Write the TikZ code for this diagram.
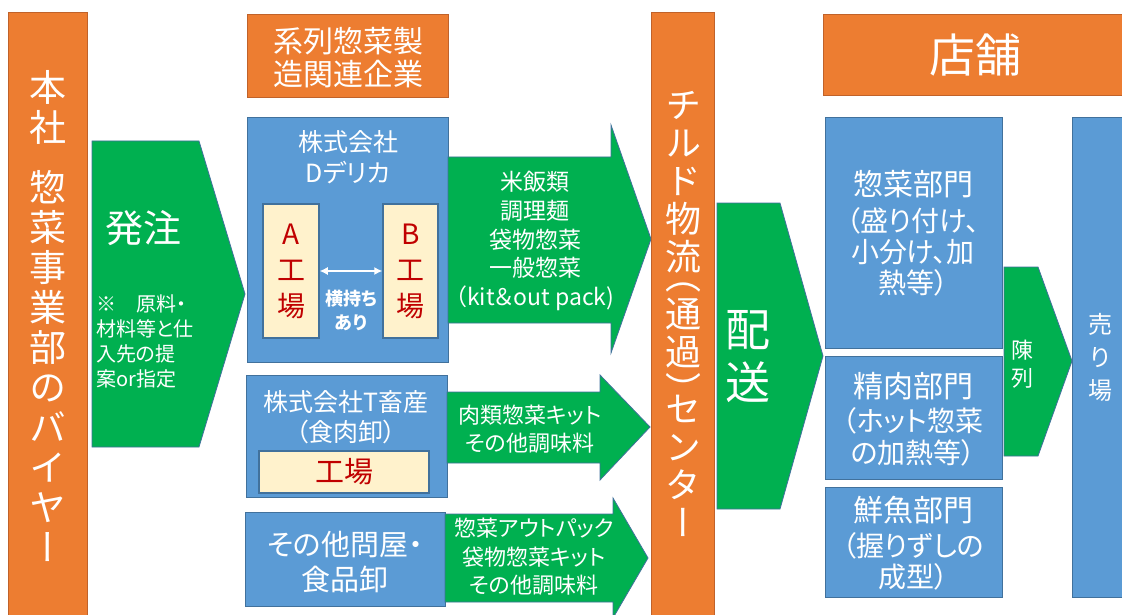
\documentclass[tikz,border=0pt]{standalone}
\usepackage{fontspec}
\usetikzlibrary{arrows.meta}
\newfontfamily\jp{Noto Sans CJK JP}[RawFeature=+palt]
\newfontfamily\vjp{Noto Sans CJK JP}[RawFeature=+vert]
\definecolor{orng}{HTML}{ED7D31}
\definecolor{obord}{HTML}{C0622A}
\definecolor{blu}{HTML}{5B9BD5}
\definecolor{bbord}{HTML}{41719C}
\definecolor{grn}{HTML}{00B050}
\definecolor{ylw}{HTML}{FFF2CC}
\definecolor{dred}{HTML}{C00000}
\begin{document}
\begin{tikzpicture}[x=1pt,y=-1pt,
  obox/.style={fill=orng, draw=obord, line width=1.2pt, inner sep=0, anchor=north west},
  bbox/.style={fill=blu, draw=bbord, line width=1.2pt, inner sep=0, anchor=north west},
  ybox/.style={fill=ylw, draw=bbord, line width=1.5pt, inner sep=0, text=dred, align=center},
  garrow/.style={fill=grn, draw=bbord, line width=0.8pt},
  wtext/.style={text=white, align=center, inner sep=0},
  dbl/.style={white, line width=1.2pt, {Latex[length=8pt,width=8pt]}-{Latex[length=8pt,width=8pt]}}
]
\useasboundingbox (0,0) rectangle (1122,615);
\clip (0,0) rectangle (1122,615);
\fill[white] (0,0) rectangle (1122,615);

% ---------- head office ----------
\node[obox, minimum width=79, minimum height=620] (honshabox) at (8,12) {};
\node[wtext, font=\vjp\fontsize{37}{40}\selectfont] (honsha) at (47.5,316)
  {本\\社\\[20pt]惣\\菜\\事\\業\\部\\の\\バ\\イ\\ヤ\\ー};

% ---------- order arrow ----------
\path[garrow] (92,141) -- (199,141) -- (245,294) -- (199,447) -- (92,447) -- cycle;
\node[wtext, font=\jp\fontsize{38}{40}\selectfont] (hatchu) at (143,228) {発注};
\node[wtext, align=left, anchor=west, font=\jp\fontsize{20}{25}\selectfont] (hatchunote) at (96,341)
  {※　原料・\\材料等と仕\\入先の提\\案or指定};

% ---------- suppliers ----------
\node[obox, minimum width=201, minimum height=83] (keiretsu) at (247,14) {};
\node[wtext, font=\jp\fontsize{30}{33}\selectfont] (keiretsutext) at (348,58) {系列惣菜製\\造関連企業};

\node[bbox, minimum width=201, minimum height=245] (delica) at (247,117) {};
\node[wtext, font=\jp\fontsize{25}{31}\selectfont] (delicatext) at (348,157) {株式会社\\Dデリカ};
\node[ybox, minimum width=56, minimum height=134, font=\jp\fontsize{28}{36}\selectfont] (afac) at (291,271) {A\\工\\場};
\node[ybox, minimum width=55, minimum height=134, font=\jp\fontsize{28}{36}\selectfont] (bfac) at (410.5,271) {B\\工\\場};
\draw[dbl] (afac.east) -- (bfac.west);
\node[wtext, font=\jp\bfseries\fontsize{18}{24}\selectfont] (yokomochi) at (351,310) {横持ち\\あり};

\node[bbox, minimum width=201, minimum height=122] (tchikusan) at (246,375) {};
\node[wtext, font=\jp\fontsize{25}{30}\selectfont] (tchikusantext) at (346,417) {株式会社T畜産\\（食肉卸）};
\node[ybox, minimum width=170, minimum height=42, font=\jp\fontsize{29}{32}\selectfont] (tfac) at (344,472) {工場};

\node[bbox, minimum width=200, minimum height=94] (tonya) at (245,512) {};
\node[wtext, font=\jp\fontsize{29}{35}\selectfont] (tonyatext) at (345,562) {その他問屋・\\食品卸};

% ---------- supply arrows ----------
\path[garrow] (448,157) -- (611,157) -- (611,125) -- (651,239) -- (611,353) -- (611,323) -- (448,323) -- cycle;
\node[wtext, font=\jp\fontsize{23}{28.7}\selectfont] (arr1text) at (535,241)
  {米飯類\\調理麺\\袋物惣菜\\一般惣菜\\（kit＆out pack)};

\path[garrow] (447,392) -- (600,392) -- (600,375) -- (650,427) -- (600,480) -- (600,463) -- (447,463) -- cycle;
\node[wtext, font=\jp\fontsize{22}{28}\selectfont] (arr2text) at (530,429) {肉類惣菜キット\\その他調味料};

\path[garrow] (445,514) -- (613,514) -- (613,498) -- (648,558) -- (613,618) -- (613,602) -- (445,602) -- cycle;
\node[wtext, font=\jp\fontsize{22}{28.5}\selectfont] (arr3text) at (534,557)
  {惣菜アウトパック\\袋物惣菜キット\\その他調味料};

% ---------- chilled center ----------
\node[obox, minimum width=63, minimum height=620] (chilledbox) at (651,12) {};
\node[wtext, font=\vjp\fontsize{36}{38}\selectfont] (chilled) at (683,314)
  {チ\\ル\\ド\\物\\流\\[-19pt]（\\通\\過\\）\\[-19pt]セ\\ン\\タ\\ー};

% ---------- delivery ----------
\path[garrow] (717,203) -- (780,203) -- (823,356) -- (780,509) -- (717,509) -- cycle;
\node[wtext, font=\jp\fontsize{45}{53}\selectfont] (haisou) at (748,357) {配\\送};

% ---------- store ----------
\node[obox, minimum width=310, minimum height=81] (tenpo) at (823,14) {};
\node[wtext, font=\jp\fontsize{46}{48}\selectfont] (tenpotext) at (975,55) {店舗};

\node[bbox, minimum width=177, minimum height=231] (sozai) at (825,117) {};
\node[wtext, font=\jp\fontsize{30}{32}\selectfont] (sozaititle) at (913,184) {惣菜部門};
\node[wtext, font=\jp\fontsize{28}{31}\selectfont] (sozaisub) at (913,252) {（盛り付け、\\小分け、加\\熱等）};

\node[bbox, minimum width=177, minimum height=123] (seiniku) at (825,356) {};
\node[wtext, font=\jp\fontsize{30}{32}\selectfont] (seinikutitle) at (913,386) {精肉部門};
\node[wtext, font=\jp\fontsize{28}{32}\selectfont] (seinikusub) at (913,437) {（ホット惣菜\\の加熱等）};

\node[bbox, minimum width=177, minimum height=110] (sengyo) at (825,487) {};
\node[wtext, font=\jp\fontsize{30}{32}\selectfont] (sengyotitle) at (913,510) {鮮魚部門};
\node[wtext, font=\jp\fontsize{28}{31}\selectfont] (sengyosub) at (913,561) {（握りずしの\\成型）};

\path[garrow] (1004,267) -- (1038,267) -- (1072,361) -- (1038,456) -- (1004,456) -- cycle;
\node[wtext, font=\jp\fontsize{22}{28}\selectfont] (chinretsu) at (1022,364) {陳\\列};

\node[bbox, minimum width=60, minimum height=480] (uriba) at (1072,117) {};
\node[wtext, font=\jp\fontsize{24}{33}\selectfont] (uribatext) at (1100,357) {売\\り\\場};
\end{tikzpicture}
\end{document}
